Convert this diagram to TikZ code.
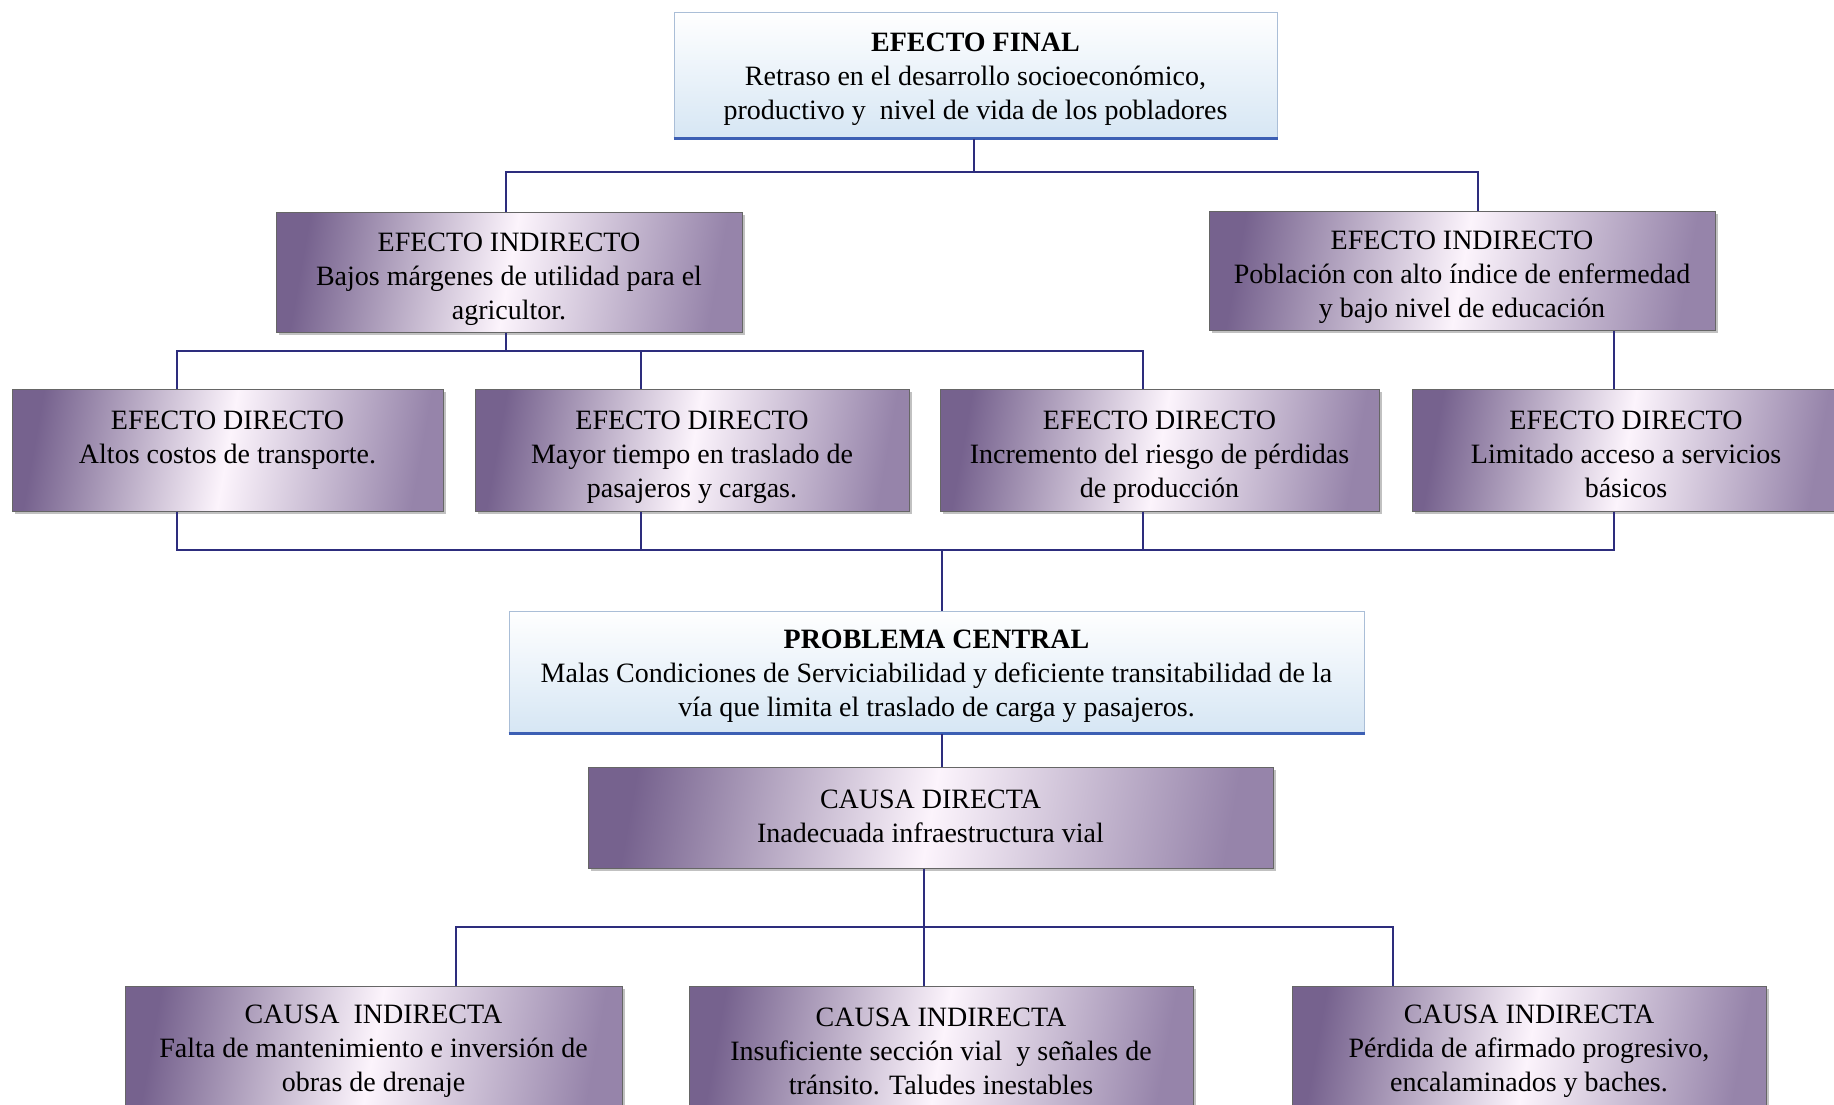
\documentclass[tikz,border=0pt]{standalone}
\usepackage{fontspec}
\setmainfont{Liberation Serif}
\usetikzlibrary{shadows}
\definecolor{pdark}{RGB}{118,98,142}
\definecolor{pright}{RGB}{150,132,170}
\definecolor{plight}{RGB}{252,244,252}
\definecolor{bluelight}{RGB}{214,230,244}
\definecolor{blueline}{RGB}{60,95,180}
\definecolor{conn}{RGB}{45,45,125}
\definecolor{bluedraw}{RGB}{170,190,215}
\begin{document}
\begin{tikzpicture}[x=0.5pt,y=-0.5pt,
 every node/.style={inner sep=0pt},
 txt/.style={font=\fontsize{14pt}{17pt}\selectfont, align=center, inner sep=0pt},
 purplebox/.style={draw=gray!80!black, line width=0.5pt, left color=pdark, right color=pright, middle color=plight, shading angle=80, drop shadow={shadow xshift=1.5pt, shadow yshift=-1.5pt, fill=gray!60, opacity=0.8}},
 bluebox/.style={draw=bluedraw, line width=0.5pt, top color=white, bottom color=bluelight},
 link/.style={draw=conn, line width=1pt},
 bottomline/.style={draw=blueline, line width=1.6pt},
]
\clip (0,0) rectangle (1834,1104);
\fill[white] (0,0) rectangle (1834,1104);

% top
\node[bluebox, minimum width=301.5pt, minimum height=63pt] (fin) at (975.5,75) {};
\draw[bottomline] (fin.south west) -- (fin.south east);
\node[txt] (fint) at ([yshift=-2.3pt]fin.center)
 {\textbf{EFECTO FINAL}\\Retraso en el desarrollo socioeconómico,\\productivo y\ \ nivel de vida de los pobladores};

% indirect effects
\node[purplebox, minimum width=233pt, minimum height=60pt] (ind1) at (509,272) {};
\node[txt] (ind1t) at ([yshift=-3.5pt]ind1.center)
 {EFECTO INDIRECTO\\Bajos márgenes de utilidad para el\\agricultor.};
\node[purplebox, minimum width=253pt, minimum height=59.5pt] (ind2) at (1462,270.5) {};
\node[txt] (ind2t) at ([yshift=-3.5pt]ind2.center)
 {EFECTO INDIRECTO\\Población con alto índice de enfermedad\\y bajo nivel de educación};

% direct effects
\node[purplebox, minimum width=215.5pt, minimum height=61pt] (d1) at (227.5,450) {};
\node[txt] (d1t) at ([yshift=-4.7pt]d1.center)
 {EFECTO DIRECTO\\Altos costos de transporte.\\\strut};
\node[purplebox, minimum width=217pt, minimum height=61pt] (d2) at (692,450) {};
\node[txt] (d2t) at ([yshift=-3.5pt]d2.center)
 {EFECTO DIRECTO\\Mayor tiempo en traslado de\\pasajeros y cargas.};
\node[purplebox, minimum width=219.5pt, minimum height=61pt] (d3) at (1159.5,450) {};
\node[txt] (d3t) at ([yshift=-3.5pt]d3.center)
 {EFECTO DIRECTO\\Incremento del riesgo de pérdidas\\de producción};
\node[purplebox, minimum width=214pt, minimum height=61pt] (d4) at (1626,450) {};
\node[txt] (d4t) at ([yshift=-2pt]d4.center)
 {EFECTO DIRECTO\\Limitado acceso a servicios\\básicos};

% central problem
\node[bluebox, minimum width=427.5pt, minimum height=61pt] (pc) at (936.5,672) {};
\draw[bottomline] (pc.south west) -- (pc.south east);
\node[txt] (pct) at ([yshift=-2.3pt]pc.center)
 {\textbf{PROBLEMA CENTRAL}\\Malas Condiciones de Serviciabilidad y deficiente transitabilidad de la\\vía que limita el traslado de carga y pasajeros.};

% direct cause
\node[purplebox, minimum width=342.5pt, minimum height=50.5pt] (cd) at (930.5,817.5) {};
\node[txt] (cdt) at ([yshift=0.8pt]cd.center)
 {CAUSA DIRECTA\\Inadecuada infraestructura vial};

% indirect causes
\node[purplebox, minimum width=248.5pt, minimum height=62pt] (ci1) at (373.5,1048) {};
\node[txt] (ci1t) at ([yshift=-1.8pt]ci1.center)
 {CAUSA\ \ INDIRECTA\\Falta de mantenimiento e inversión de\\obras de drenaje};
\node[purplebox, minimum width=252pt, minimum height=62pt] (ci2) at (941,1048) {};
\node[txt] (ci2t) at ([yshift=-1.8pt]ci2.center)
 {CAUSA INDIRECTA\\Insuficiente sección vial\ \ y señales de\\tránsito. Taludes inestables};
\node[purplebox, minimum width=237pt, minimum height=62pt] (ci3) at (1529,1048) {};
\node[txt] (ci3t) at ([yshift=-1.8pt]ci3.center)
 {CAUSA INDIRECTA\\Pérdida de afirmado progresivo,\\encalaminados y baches.};

% connector coordinates
\coordinate (j1) at (974,172);
\coordinate (j1l) at (506,172);
\coordinate (j1r) at (1478,172);
\coordinate (j2) at (506,351);
\coordinate (j2l) at (177,351);
\coordinate (j2m) at (641,351);
\coordinate (j2r) at (1143,351);
\coordinate (x4) at (1614,0);
\coordinate (j3l) at (177,550);
\coordinate (j3b) at (641,550);
\coordinate (j3c) at (1143,550);
\coordinate (j3r) at (1614,550);
\coordinate (j3m) at (942,550);
\coordinate (j4) at (924,927);
\coordinate (j4l) at (456,927);
\coordinate (j4r) at (1393,927);

% connectors
\draw[link] (fin.south -| j1) -- (j1);
\draw[link] (ind1.north -| j1l) -- (j1l) -- (j1r) -- (ind2.north -| j1r);
\draw[link] (ind1.south -| j2) -- (j2);
\draw[link] (d1.north -| j2l) -- (j2l) -- (j2r) -- (d3.north -| j2r);
\draw[link] (j2m) -- (d2.north -| j2m);
\draw[link] (ind2.south -| x4) -- (d4.north -| x4);
\draw[link] (d1.south -| j3l) -- (j3l) -- (j3r) -- (d4.south -| j3r);
\draw[link] (d2.south -| j3b) -- (j3b);
\draw[link] (d3.south -| j3c) -- (j3c);
\draw[link] (j3m) -- (pc.north -| j3m);
\draw[link] (pc.south -| j3m) -- (cd.north -| j3m);
\draw[link] (cd.south -| j4) -- (j4);
\draw[link] (ci1.north -| j4l) -- (j4l) -- (j4r) -- (ci3.north -| j4r);
\draw[link] (j4) -- (ci2.north -| j4);
\end{tikzpicture}
\end{document}
